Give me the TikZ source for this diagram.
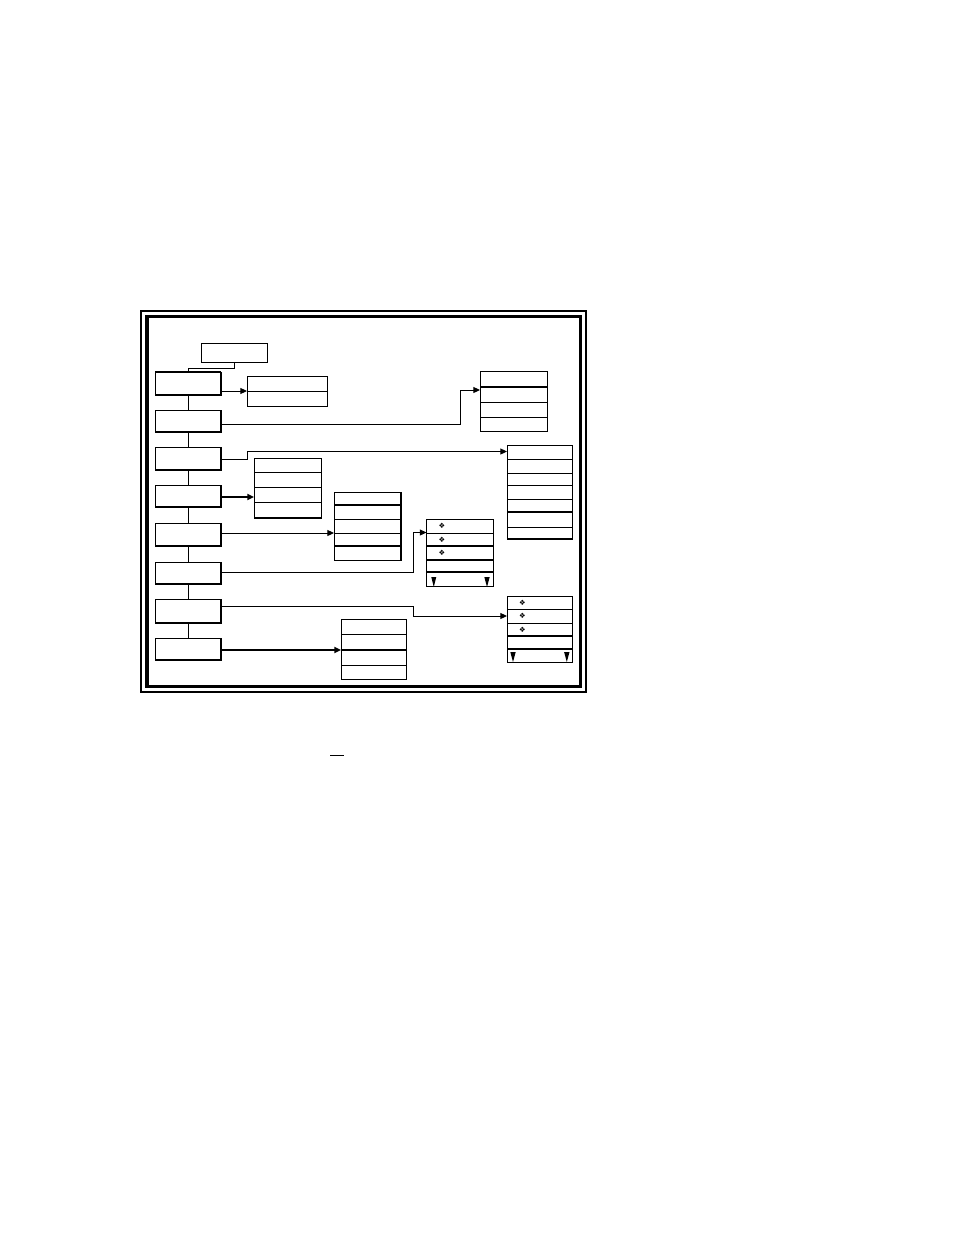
\documentclass[tikz,border=0pt]{standalone}
\usepackage{fontspec}
\newfontfamily\symfont{DejaVu Sans}
\usetikzlibrary{arrows.meta,fit}
\begin{document}
\begin{tikzpicture}[x=0.75pt,y=-0.75pt,
  tbl/.style={draw,line width=0.75pt,inner sep=0pt,outer sep=0pt},
  lbox/.style={tbl},
  shadowedge/.style={line width=1.3pt},
  thin/.style={line width=0.75pt},
  thick/.style={line width=1.5pt},
  arr/.style={-{Triangle[length=5pt,width=4.5pt]},line width=0.75pt},
  tharr/.style={arr,line width=1.5pt},
  sym/.style={inner sep=0pt,font=\symfont\fontsize{5.5}{5.5}\selectfont},
  tri/.style={fill=black,draw=none}]
\useasboundingbox (0,0) rectangle (954,1235);
% frame
\draw[line width=1.5pt] (141,311) rectangle (585.5,691.5);
\draw[line width=2.4pt] (147,316.5) rectangle (580.5,686.5);
% top box
\node[tbl,fit={(201,343)(267,362)}] (top) {};
% left column
\node[lbox,fit={(155,372)(221,395)}] (L1) {};
\node[lbox,fit={(155,410)(221,432)}] (L2) {};
\node[lbox,fit={(155,447)(221,470)}] (L3) {};
\node[lbox,fit={(155,485)(221,507)}] (L4) {};
\node[lbox,fit={(155,523)(221,546)}] (L5) {};
\node[lbox,fit={(155,562)(221,584)}] (L6) {};
\node[lbox,fit={(155,599)(221,623)}] (L7) {};
\node[lbox,fit={(155,638)(221,660)}] (L8) {};
\foreach \n in {L1,L2,L3,L4,L5,L6,L7,L8}
  \draw[shadowedge] (\n.north east) -- (\n.south east) -- (\n.south west);
\draw[shadowedge] (L1.north west) -- (L1.north east);
\draw[thin] (top.south) -- ++(0,6) -| (L1.north);
\draw[thin] (L1.south) -- (L2.north);
\draw[thin] (L2.south) -- (L3.north);
\draw[thin] (L3.south) -- (L4.north);
\draw[thin] (L4.south) -- (L5.north);
\draw[thin] (L5.south) -- (L6.north);
\draw[thin] (L6.south) -- (L7.north);
\draw[thin] (L7.south) -- (L8.north);
% tables
\node[tbl,fit={(247,376)(327,406)}] (A) {};
\draw[thin] (A.west|-0,391) -- (A.east|-0,391);

\node[tbl,fit={(480,371)(547.5,431)}] (B) {};
\draw[thick] (B.west|-0,387) -- (B.east|-0,387);
\foreach \y in {402,417} \draw[thin] (B.west|-0,\y) -- (B.east|-0,\y);

\node[tbl,fit={(507,445)(572,539)}] (C) {};
\foreach \y in {459,473,485,499,527} \draw[thin] (C.west|-0,\y) -- (C.east|-0,\y);
\draw[thick] (C.west|-0,512) -- (C.east|-0,512);
\draw[thick] (C.south west) -- (C.south east);

\node[tbl,fit={(254,458)(321.5,518)}] (D) {};
\foreach \y in {472,487,502} \draw[thin] (D.west|-0,\y) -- (D.east|-0,\y);
\draw[thick] (D.south west) -- (D.south east);

\node[tbl,fit={(334,492)(401,560)}] (E) {};
\foreach \y in {519,533} \draw[thin] (E.west|-0,\y) -- (E.east|-0,\y);
\foreach \y in {505,546} \draw[thick] (E.west|-0,\y) -- (E.east|-0,\y);
\draw[thick] (E.north east) -- (E.south east);

\node[tbl,fit={(426.5,519)(493,586.5)}] (F) {};
\draw[thin] (F.west|-0,533) -- (F.east|-0,533);
\foreach \y in {546,560,572} \draw[thick] (F.west|-0,\y) -- (F.east|-0,\y);
\node[sym] (f1) at (442,526) {❖};
\node[sym] (f2) at (442,539.5) {❖};
\node[sym] (f3) at (442,553) {❖};
\fill[tri] (431.3,577) -- (436.3,577) -- (433.8,587) -- cycle;
\fill[tri] (484.3,577) -- (489.7,577) -- (487,587) -- cycle;

\node[tbl,fit={(507,596)(572,662)}] (G) {};
\foreach \y in {609,623} \draw[thin] (G.west|-0,\y) -- (G.east|-0,\y);
\foreach \y in {636,649} \draw[thick] (G.west|-0,\y) -- (G.east|-0,\y);
\node[sym] (g1) at (522.3,602.5) {❖};
\node[sym] (g2) at (522.3,616) {❖};
\node[sym] (g3) at (522.3,629.5) {❖};
\fill[tri] (510.3,652) -- (515.7,652) -- (513,662) -- cycle;
\fill[tri] (564.1,652) -- (569.5,652) -- (566.8,662) -- cycle;

\node[tbl,fit={(341,619)(406,679)}] (H) {};
\foreach \y in {634,665} \draw[thin] (H.west|-0,\y) -- (H.east|-0,\y);
\draw[thick] (H.west|-0,650) -- (H.east|-0,650);
% connectors
\draw[arr] (L1.east|-0,391) -- (A.west|-0,391);
\draw[arr] (L2.east|-0,424) -- (460,424) -- (460,390) -- (B.west|-0,390);
\draw[arr] (L3.east|-0,459) -- (247,459) -- (247,451.5) -- (C.west|-0,451.5);
\draw[tharr] (L4.east|-0,497) -- (D.west|-0,497);
\draw[arr] (L5.east|-0,533) -- (E.west|-0,533);
\draw[arr] (L6.east|-0,572) -- (413,572) -- (413,532.5) -- (F.west|-0,532.5);
\draw[arr] (L7.east|-0,606) -- (413,606) -- (413,616) -- (G.west|-0,616);
\draw[tharr] (L8.east|-0,650) -- (H.west|-0,650);
% small mark below
\draw[line width=0.9pt] (330,755.3) -- (344,755.3);
\end{tikzpicture}
\end{document}
